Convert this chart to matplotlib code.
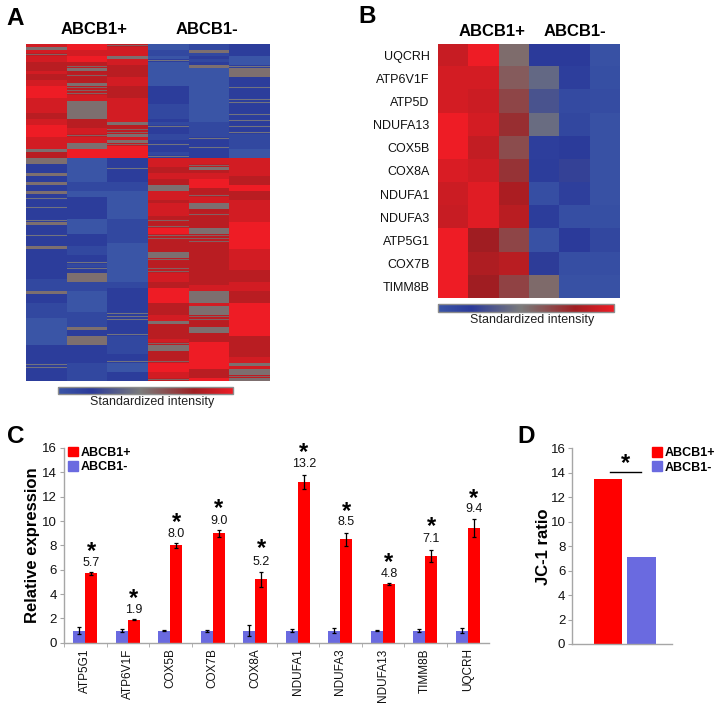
import re
import numpy as np
import matplotlib
matplotlib.use('Agg')
import matplotlib.pyplot as plt
from matplotlib.colors import LinearSegmentedColormap, Normalize
from matplotlib.cm import ScalarMappable
from matplotlib.patches import Patch

W, H = 721, 710
plt.rcParams['font.family'] = ['Liberation Sans', 'DejaVu Sans']

# ---------- data ----------
groups = ['ABCB1+', 'ABCB1-']

# Panel A, run-length rows per sample column (top cluster, bottom cluster)
A_top = [
 "r1g1r1m1r2d3r1d2r2R4r5d2r2R4r4g1d2",
 "R2r2R2d1m1g1d1m1d2g1m3r2g6d3r2m1r2g2R3",
 "m1r3g1r2d4r3d4r8g1d1m2g1r1g1m1R4",
 "l2b2l1p1l8n6b5n1b1p1n2b2n1p1n2b1p1",
 "b2g1b1n1b1n1g1l18b5p1n2p1n3",
 "n4l3p1g3n3p1n3p2n3p1n1p1n1p1n1p1b5l3",
]
A_bottom = [
 "g2n2n1g1n2g1n2g1n1p1n2p1n3p1g1n3p1n3g1n10b4g1n3b5l9n6p2n4",
 "l8b3l2n7l5n4b3n2p1b1p1n1g3b3l4l3b5g1n2g3n6b6",
 "n3p1n4b3l9b8l9l4b2n8p3n4p1b6n2p1l3n3",
 "r3d2r2d2g2r3d1r4d1m1d1m1R2m2d4g2m1d2m1m1r3d2R5d4r2g1d5r1m1g2d3m1R3r2m1",
 "r2m1g1d1r2R3d2m1r2g2d1m1d4g2m3d9d5r2g4r1g3m2d2g2d3R9d3R1",
 "r6d3R2d3r7R3R6r7d4r3d4R5R6d7r2g1r1g2m1g1",
]
# each reference row is three fine lines: streak rows m and p hold one thin grey line
A_codes = {'R': [1.0] * 3, 'r': [0.84] * 3, 'd': [0.70] * 3, 'g': [0.02] * 3,
           'm': [0.72, 0.12, 0.72], 'p': [-0.68, -0.12, -0.68],
           'n': [-0.66] * 3, 'b': [-0.82] * 3, 'l': [-1.0] * 3}

# Panel B
B_genes = ['UQCRH', 'ATP6V1F', 'ATP5D', 'NDUFA13', 'COX5B', 'COX8A',
           'NDUFA1', 'NDUFA3', 'ATP5G1', 'COX7B', 'TIMM8B']
B_values = [
 [0.78, 1.00, 0.04, -0.62, -0.62, -0.95],
 [0.85, 0.85, 0.15, -0.22, -0.68, -0.92],
 [0.85, 0.80, 0.30, -0.40, -0.85, -0.88],
 [1.00, 0.85, 0.45, -0.18, -0.80, -0.95],
 [1.00, 0.75, 0.25, -0.68, -0.64, -0.95],
 [0.88, 0.82, 0.42, -0.66, -0.55, -0.95],
 [0.80, 0.92, 0.62, -0.90, -0.70, -0.95],
 [0.78, 0.92, 0.70, -0.66, -0.90, -0.92],
 [1.00, 0.56, 0.30, -0.95, -0.62, -0.80],
 [1.00, 0.64, 0.70, -0.60, -0.90, -0.90],
 [1.00, 0.56, 0.32, 0.06, -0.95, -0.95],
]

# Panel C
C_genes = ['ATP5G1', 'ATP6V1F', 'COX5B', 'COX7B', 'COX8A', 'NDUFA1',
           'NDUFA3', 'NDUFA13', 'TIMM8B', 'UQCRH']
C_pos = [5.7, 1.9, 8.0, 9.0, 5.2, 13.2, 8.5, 4.8, 7.1, 9.4]
C_pos_err = [0.15, 0.05, 0.2, 0.3, 0.65, 0.6, 0.55, 0.07, 0.5, 0.75]
C_neg = [1.0] * 10
C_neg_err = [0.28, 0.13, 0.03, 0.08, 0.45, 0.13, 0.2, 0.04, 0.13, 0.2]
C_label_y = [6.58, 2.69, 8.9, 10.04, 6.6, 14.65, 9.88, 5.65, 8.5, 10.97]
C_star_y = [7.76, 3.92, 10.15, 11.25, 8.0, 15.86, 11.05, 6.86, 9.77, 12.15]

# Panel D
D_values = [13.45, 7.15]

RED, BLUE = '#ff0000', '#6a6ae0'
AXC = '#a6a6a6'
cmap = LinearSegmentedColormap.from_list('heat', [
    (0.0, '#3a55a6'), (0.19, '#2b3a9a'), (0.47, '#7b7b7b'), (0.53, '#7f6a6a'),
    (0.78, '#a01e22'), (1.0, '#ee1c25')])
norm = Normalize(-1, 1)


def decode(s, n):
    out = []
    for c, k in re.findall(r'([A-Za-z])(\d+)', s):
        for _ in range(int(k)):
            out.append(A_codes[c])
    out = (out + [out[-1]] * n)[:n]
    return [v for row in out for v in row]


A_matrix = np.array([decode(t, 38) + decode(b, 74)
                     for t, b in zip(A_top, A_bottom)]).T


def px_axes(x0, y0, x1, y1, **kw):
    return fig.add_axes([x0 / W, 1 - y1 / H, (x1 - x0) / W, (y1 - y0) / H], **kw)


def ftext(x, y, s, **kw):
    return fig.text(x / W, 1 - y / H, s, **kw)


def colorbar(x0, y0, x1, y1, label_x):
    cax = px_axes(x0, y0, x1, y1)
    cb = fig.colorbar(ScalarMappable(norm=norm, cmap=cmap), cax=cax,
                      orientation='horizontal')
    cb.set_ticks([])
    cb.outline.set_edgecolor('#8c8c8c')
    cb.outline.set_linewidth(1.0)
    ftext(label_x, y1 + 8.5, 'Standardized intensity', ha='center', va='center',
          fontsize=9, color='#222222')


def star(ax, x, y, size=17):
    ax.annotate('*', (x, y), xytext=(0, -0.41 * size), textcoords='offset points',
                ha='center', va='baseline', fontsize=size, fontweight='bold',
                color='black', annotation_clip=False)


fig = plt.figure(figsize=(W / 100, H / 100), dpi=100, facecolor='white')

# ---------- A ----------
axA = px_axes(26, 44, 270, 381)
axA.imshow(A_matrix, cmap=cmap, norm=norm, aspect='auto', interpolation='nearest')
axA.axis('off')
colorbar(58, 387, 233, 394, 152)
ftext(94, 30, groups[0], ha='center', va='center', fontsize=12, fontweight='bold')
ftext(207, 30, groups[1], ha='center', va='center', fontsize=12, fontweight='bold')

# ---------- B ----------
axB = px_axes(438, 44, 619, 298)
axB.imshow(np.array(B_values), cmap=cmap, norm=norm, aspect='auto',
           interpolation='nearest')
axB.set_xticks([])
axB.set_yticks(range(len(B_genes)), B_genes, fontsize=9, color='#111111')
axB.tick_params(axis='y', length=0, pad=6)
for s in axB.spines.values():
    s.set_visible(False)
colorbar(438, 304, 614, 312, 532)
ftext(492, 31, groups[0], ha='center', va='center', fontsize=12, fontweight='bold')
ftext(575, 31, groups[1], ha='center', va='center', fontsize=12, fontweight='bold')

# ---------- C ----------
axC = px_axes(64, 448, 489, 642.7)
x = np.arange(len(C_genes))
bw = 0.286
ek = dict(ecolor='black', elinewidth=0.9, capsize=1.6, capthick=0.9)
axC.bar(x - bw / 2, C_neg, bw, color=BLUE, yerr=C_neg_err, error_kw=ek, label=groups[1])
axC.bar(x + bw / 2, C_pos, bw, color=RED, yerr=C_pos_err, error_kw=ek, label=groups[0])
axC.set_xlim(-0.5, 9.5)
axC.set_ylim(0, 16)
axC.set_yticks(range(0, 17, 2))
axC.set_xticks(x - 0.5, minor=True)
axC.set_xticks(x, C_genes, rotation=90, fontsize=8.5, color='#111111')
axC.tick_params(axis='x', which='major', length=0, pad=4)
axC.tick_params(axis='x', which='minor', length=3, color=AXC)
axC.tick_params(axis='y', length=3, color=AXC, labelsize=9.5, labelcolor='#111111', pad=2)
for k in ('top', 'right'):
    axC.spines[k].set_visible(False)
for k in ('left', 'bottom'):
    axC.spines[k].set_color(AXC)
    axC.spines[k].set_linewidth(1.0)
for xi, v, ly, sy in zip(x, C_pos, C_label_y, C_star_y):
    axC.text(xi + bw / 2, ly, f'{v:.1f}', ha='center', va='center', fontsize=9,
             color='#111111', clip_on=False)
    star(axC, xi + bw / 2, sy)
ftext(33, 545, 'Relative expression', rotation=90, ha='center', va='center',
      fontsize=12, fontweight='bold')

legend_handles = [Patch(color=RED, label=groups[0]), Patch(color=BLUE, label=groups[1])]
legend_kw = dict(handles=legend_handles, frameon=False, handlelength=0.86,
                 handleheight=0.85, handletextpad=0.15, labelspacing=0.15,
                 borderpad=0, borderaxespad=0, loc='upper left',
                 prop={'size': 9, 'weight': 'bold'})
axC.legend(bbox_to_anchor=(67.7 / W, 1 - 446.5 / H),
           bbox_transform=fig.transFigure, **legend_kw)

# ---------- D ----------
axD = px_axes(572.3, 448.3, 671.7, 644)
axD.bar([0, 1], D_values, 0.86, color=[RED, BLUE])
axD.set_xlim(-1.08, 1.91)
axD.set_ylim(0, 16)
axD.set_xticks([])
axD.set_yticks(range(0, 17, 2))
axD.tick_params(axis='y', length=3, color=AXC, labelsize=9.5, labelcolor='#111111', pad=2)
for k in ('top', 'right'):
    axD.spines[k].set_visible(False)
for k in ('left', 'bottom'):
    axD.spines[k].set_color(AXC)
    axD.spines[k].set_linewidth(1.0)
axD.plot([0.05, 1.0], [14.1, 14.1], color='black', lw=1.0, clip_on=False)
star(axD, 0.52, 15.0)
ftext(543, 547, 'JC-1 ratio', rotation=90, ha='center', va='center',
      fontsize=12, fontweight='bold')
axD.legend(bbox_to_anchor=(651.7 / W, 1 - 447 / H),
           bbox_transform=fig.transFigure, **legend_kw)

# ---------- panel letters ----------
for s, px, py in [('A', 6, 25), ('B', 358, 23), ('C', 7, 443), ('D', 517, 443)]:
    ftext(px, py, s, ha='left', va='baseline', fontsize=17.5, fontweight='bold')

fig.savefig('out.png', dpi=100)
